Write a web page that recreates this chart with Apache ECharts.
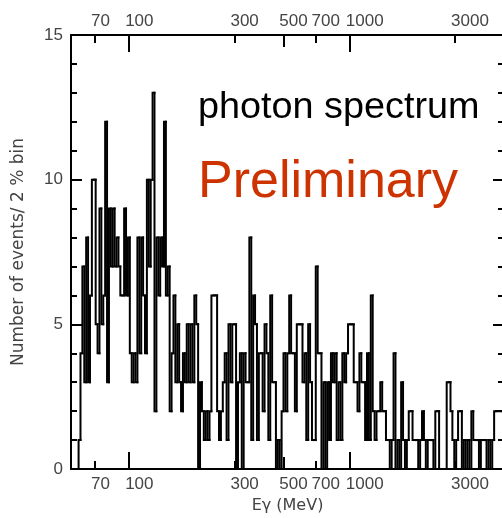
<!DOCTYPE html>
<html>
<head>
<meta charset="utf-8">
<script src="https://cdn.jsdelivr.net/npm/echarts@6/dist/echarts.min.js"></script>
<style>html,body{margin:0;padding:0;background:#fff}#c{width:502px;height:518px}</style>
</head>
<body>
<div id="c"></div>
<script>
// Binning: 2% bins on a log energy axis (MeV)
const binLow = 54.5;
const binRatio = 1.02;
const axisMaxE = 5000;
// Counts per 2% bin (left to right)
const counts = [
  0,0,0,0,1,4,7,3,8,3,
  6,10,10,5,4,9,5,6,12,3,
  9,7,9,7,8,7,6,6,9,6,
  8,4,3,4,3,8,4,8,6,4,
  10,7,10,13,2,8,6,8,7,12,
  6,7,2,4,6,3,5,3,2,4,
  3,5,3,5,3,6,5,0,3,2,
  1,2,1,2,6,6,6,2,1,2,
  3,4,1,5,3,5,5,0,3,4,
  0,4,3,3,8,1,6,5,1,4,
  4,2,5,4,1,6,3,3,0,1,
  0,2,4,2,4,6,4,4,2,5,
  5,5,3,4,1,5,3,1,1,7,
  4,4,0,3,0,3,1,4,3,4,
  1,3,1,4,3,4,5,5,5,3,
  3,2,4,3,3,1,4,1,6,2,
  1,2,2,3,2,2,1,1,0,1,
  4,0,1,0,3,1,0,1,2,2,
  1,1,1,0,1,2,1,0,1,1,
  1,0,2,2,0,0,0,0,3,3,
  2,1,0,1,2,2,0,1,0,1,
  0,2,1,1,1,0,1,1,1,0,
  1,0,1,2,2,2,2,2
];
const xTickLabels = [70, 100, 300, 500, 700, 1000, 3000];
const xTicksShort = [70, 300, 700, 3000];
const xTicksMid = [500];
const xTicksLong = [100, 1000];
const yMin = 0, yMax = 15, yInterval = 5;

const L = Math.log10;
// One item per bin: [log low edge, log high edge, count, previous bin's count]
const bins = [];
let e = binLow;
for (let i = 0; i < counts.length; i++) {
  const e2 = e * binRatio;
  bins.push([L(e), L(e2), counts[i], i > 0 ? counts[i - 1] : 0]);
  e = e2;
}

function renderStep(params, api) {
  const p0 = api.coord([api.value(0), api.value(3)]);
  const p1 = api.coord([api.value(0), api.value(2)]);
  const p2 = api.coord([api.value(1), api.value(2)]);
  return {
    type: 'polyline',
    shape: {points: [p0, p1, p2]},
    style: {stroke: '#000', lineWidth: 2, fill: null, lineJoin: 'miter', lineCap: 'square'},
    silent: true
  };
}

const labelFont = {color: '#444', fontFamily: 'Liberation Sans', fontSize: 17};
function xAx(pos, ticks, len, labels, extra) {
  return Object.assign({
    type: 'value', position: pos, min: L(binLow), max: L(axisMaxE),
    axisLine: {show: true, onZero: false, lineStyle: {color: '#000', width: 2}},
    axisTick: {show: true, inside: true, length: len, customValues: ticks.map(L), lineStyle: {color: '#000', width: 2}},
    axisLabel: labels ? Object.assign({show: true, customValues: xTickLabels.map(L), margin: pos === 'top' ? 5 : 7,
      align: 'left', padding: [0, 0, 0, -4],
      formatter: v => String(Math.round(Math.pow(10, v)))}, labelFont) : {show: false},
    splitLine: {show: false}
  }, extra || {});
}

const chart = echarts.init(document.getElementById('c'), null, {renderer: 'canvas'});
chart.setOption({
  animation: false,
  backgroundColor: '#fff',
  grid: {left: 71, top: 35, width: 433, height: 434, containLabel: false, outerBoundsMode: 'none'},
  xAxis: [
    xAx('bottom', xTicksShort, 8, true, {name: 'E\u03b3 (MeV)', nameLocation: 'middle', nameGap: 24,
      nameTextStyle: {color: '#444', fontFamily: 'DejaVu Sans', fontSize: 16}}),
    xAx('bottom', xTicksMid, 12, false),
    xAx('bottom', xTicksLong, 17, false),
    xAx('top', xTicksShort, 8, true),
    xAx('top', xTicksMid, 12, false),
    xAx('top', xTicksLong, 17, false)
  ],
  yAxis: [
    {type: 'value', position: 'left', min: yMin, max: yMax, interval: yInterval,
     name: 'Number of events/ 2 % bin', nameLocation: 'middle', nameGap: 44, nameRotate: 90,
     nameTextStyle: {color: '#444', fontFamily: 'DejaVu Sans', fontSize: 17},
     axisLine: {show: true, lineStyle: {color: '#000', width: 2}},
     axisTick: {show: true, inside: true, length: 11, lineStyle: {color: '#000', width: 2}},
     minorTick: {show: true, splitNumber: 5, length: 6, lineStyle: {color: '#000', width: 2}},
     axisLabel: Object.assign({margin: 8}, labelFont),
     splitLine: {show: false}, minorSplitLine: {show: false}},
    {type: 'value', position: 'right', min: yMin, max: yMax, interval: yInterval,
     axisLine: {show: true, lineStyle: {color: '#000', width: 2}},
     axisTick: {show: true, inside: true, length: 11, lineStyle: {color: '#000', width: 2}},
     minorTick: {show: true, splitNumber: 5, length: 6, lineStyle: {color: '#000', width: 2}},
     axisLabel: {show: false}, splitLine: {show: false}}
  ],
  series: [{
    type: 'custom', xAxisIndex: 0, yAxisIndex: 0,
    encode: {x: [0, 1], y: [2, 3]},
    renderItem: renderStep, data: bins, clip: true
  }],
  graphic: [
    {type: 'text', left: 198, top: 89, style: {text: 'photon spectrum', fill: '#000', font: '37.8px "Liberation Sans"'}},
    {type: 'text', left: 198, top: 157, style: {text: 'Preliminary', fill: '#cc3300', font: '52px "Liberation Sans"'}}
  ]
});
</script>
</body>
</html>
